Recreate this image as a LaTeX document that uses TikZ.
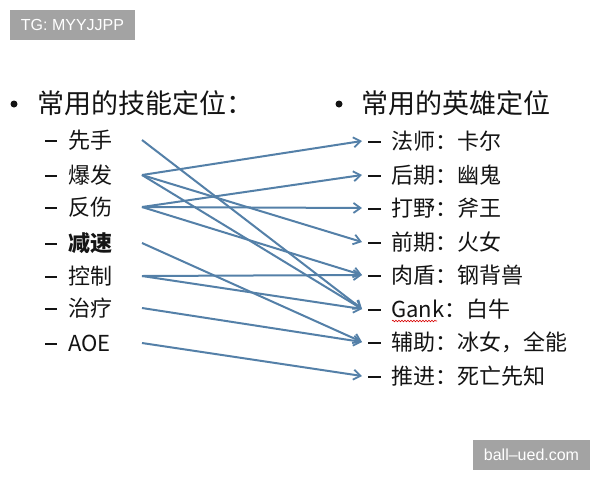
\documentclass[tikz,border=0pt]{standalone}
\usepackage{fontspec}
\setmainfont{Noto Sans CJK SC}
\newfontfamily\wmfont{Liberation Sans}
\usetikzlibrary{arrows.meta,decorations.pathmorphing}
\definecolor{linkblue}{RGB}{84,128,168}
\definecolor{wmgray}{RGB}{163,163,163}
\definecolor{txt}{RGB}{20,20,20}
\tikzset{
  head/.style={anchor=west,inner sep=0pt,font=\fontsize{27}{30}\selectfont,text=txt},
  item/.style={anchor=west,inner sep=0pt,font=\fontsize{22}{24}\selectfont,text=txt},
  dashmark/.style={draw=txt,line width=2.2pt},
  bulletmark/.style={fill=txt,circle,inner sep=0pt,minimum size=7pt},
  link/.style={draw=linkblue,line width=2pt,-{Straight Barb[length=7pt,width=10pt,line width=1.8pt]}},
  wmbox/.style={fill=wmgray,text=white,inner sep=0pt,font=\wmfont\fontsize{16}{18}\selectfont}
}
\begin{document}
\begin{tikzpicture}[x=1pt,y=-1pt]
\useasboundingbox (0,0) rectangle (600,480);
\fill[white] (0,0) rectangle (600,480);
% watermarks
\node[wmbox,minimum width=125pt,minimum height=30pt] (wm1) at (72.5,25) {TG: MYYJJPP};
\node[wmbox,minimum width=117pt,minimum height=30pt] (wm2) at (531.5,455) {ball–ued.com};
% headers
\node[bulletmark] (hb1) at (14,104) {};
\node[head] (h1) at (37,103) {常用的技能定位：};
\node[bulletmark] (hb2) at (339,104) {};
\node[head] (h2) at (361,103) {常用的英雄定位};
% left items
\foreach \i/\y/\t in {1/140/先手,2/175/爆发,3/207/反伤,5/276/控制,6/308/治疗,7/343/AOE}{
  \draw[dashmark] (45,\y+1) -- (57,\y+1);
  \node[item] (l\i) at (68,\y) {\t};
  \coordinate (L\i) at (142,\y);
}
\draw[dashmark] (45,244) -- (57,244);
\node[item,font=\fontsize{22}{24}\selectfont\bfseries] (l4) at (68,243) {减速};
\coordinate (L4) at (142,243);
% right items
\foreach \i/\y/\t in {1/141/法师：卡尔,2/175/后期：幽鬼,3/208/打野：斧王,4/242/前期：火女,5/275/肉盾：钢背兽,6/309/Gank：白牛,7/342/辅助：冰女，全能,8/376/推进：死亡先知}{
  \draw[dashmark] (368,\y+1) -- (381,\y+1);
  \node[item] (r\i) at (391,\y) {\t};
  \coordinate (R\i) at (362,\y);
}
% spell-check underline under Gank
\coordinate (g1) at (392,321);
\coordinate (g2) at (437,321);
\draw[red!85!black,line width=0.6pt,decorate,decoration={snake,amplitude=0.8pt,segment length=3pt}] (g1) -- (g2);
% connectors
\draw[link] (L1) -- (R6);
\draw[link] (L2) -- (R1);
\draw[link] (L2) -- (R4);
\draw[link] (L2) -- (R6);
\draw[link] (L3) -- (R2);
\draw[link] (L3) -- (R3);
\draw[link] (L3) -- (R5);
\draw[link] (L4) -- (R7);
\draw[link] (L5) -- (R5);
\draw[link] (L5) -- (R6);
\draw[link] (L6) -- (R7);
\draw[link] (L7) -- (R8);
\end{tikzpicture}
\end{document}
